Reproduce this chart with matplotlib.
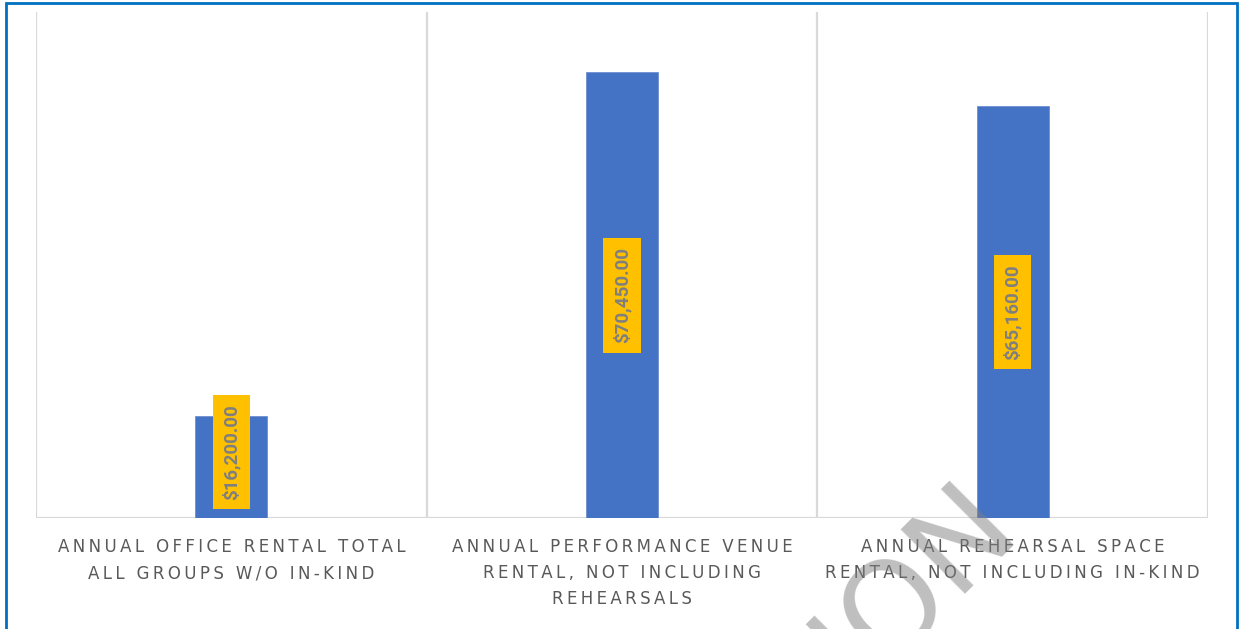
import matplotlib.pyplot as plt
from matplotlib.patches import Rectangle

categories = [
    ["ANNUAL OFFICE RENTAL TOTAL", "ALL GROUPS W/O IN-KIND"],
    ["ANNUAL PERFORMANCE VENUE", "RENTAL, NOT INCLUDING", "REHEARSALS"],
    ["ANNUAL REHEARSAL SPACE", "RENTAL, NOT INCLUDING IN-KIND"],
]
values = [16200.00, 70450.00, 65160.00]
watermark = "ION"

BLUE = "#4472C4"
GOLD = "#FFC000"
GRID = "#D9D9D9"
TXT = "#595959"
THIN = "\u2009"


def spaced(s):
    # wide character spacing for the axis labels
    return THIN.join(s)


fig = plt.figure(figsize=(12.43, 6.29), dpi=100)
ax = fig.add_axes([36 / 1243, 1 - 518 / 629, (1208 - 36) / 1243, (518 - 12) / 629])

x = range(len(values))
ax.bar(x, values, width=0.184, color=BLUE, edgecolor="#6F8FD0", linewidth=0.6, zorder=2)

ax.set_xlim(-0.5, len(values) - 0.5)
ax.set_ylim(0, 80000)

# category separators
for b in [i - 0.5 for i in range(len(values) + 1)]:
    ax.axvline(b, color=GRID, lw=1.6, zorder=1)
ax.axhline(0, color=GRID, lw=1.6, zorder=1)

for s in ax.spines.values():
    s.set_visible(False)
ax.set_xticks([])
ax.set_yticks([])

# value labels
for i, v in enumerate(values):
    ax.text(i, max(v / 2, 10450), f"${v:,.2f}", rotation=90, ha="center", va="center",
            fontsize=13.5, fontweight="bold", family="Roboto", color="#7F7F7F",
            bbox=dict(boxstyle="square,pad=0.5", fc=GOLD, ec="none"), zorder=3)

# category labels below the axis
for i, lines in enumerate(categories):
    for j, line in enumerate(lines):
        ax.annotate(spaced(line), xy=(i, 0), xycoords="data",
                    xytext=(0, -29 - 26 * j), textcoords="offset pixels",
                    ha="center", va="center", fontsize=12, color=TXT,
                    family="DejaVu Sans")

# blue frame
fig.patches.append(Rectangle((6 / 1243, -0.2), (1237 - 6) / 1243, 1.2 - 2.5 / 629,
                             transform=fig.transFigure, fill=False,
                             ec="#0070C0", lw=2, clip_on=False))

fig.text(915 / 1243, 1 - 583 / 629, watermark, rotation=45, rotation_mode="anchor",
         ha="center", va="center", fontsize=90, color="#808080", alpha=0.5, zorder=10)

fig.savefig("out.png", dpi=100)
